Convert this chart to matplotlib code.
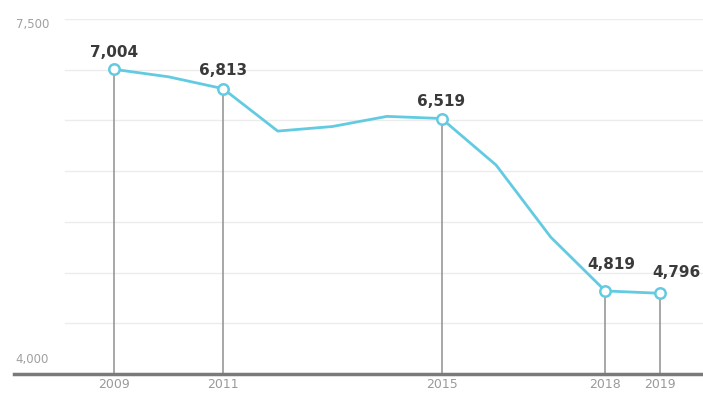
import numpy as np
import matplotlib.pyplot as plt

# dados
anos = [2009, 2010, 2011, 2012, 2013, 2014, 2015, 2016, 2017, 2018, 2019]
valores = [7004, 6930, 6813, 6395, 6440, 6540, 6519, 6060, 5350, 4819, 4796]

anos_marcados = [2009, 2011, 2015, 2018, 2019]
rotulos_anos = ['2009', '2011', '2015', '2018', '2019']

# deslocamento (em pontos) dos rótulos de valor
desloc = {2009: (0, 12), 2011: (0, 13), 2015: (0, 12), 2018: (4, 19), 2019: (12, 15)}

cor_linha = '#62cbe2'
cor_texto = '#3a3a3a'

fig = plt.figure(figsize=(7.03, 4.01), dpi=100)
ax = fig.add_axes([0.02, 0.0673, 0.98, 0.8853])

ax.set_xlim(2007.17, 2019.79)
ax.set_ylim(4000, 7500)

# grade horizontal clara
for yv in np.arange(4500, 7501, 500):
    ax.plot([2008.1, 2019.79], [yv, yv], color='#ececec', lw=1, zorder=0)

# linhas verticais até o eixo
for a in anos_marcados:
    v = valores[anos.index(a)]
    ax.plot([a, a], [4000, v], color='#909090', lw=1.1, zorder=1)

ax.plot(anos, valores, color=cor_linha, lw=2, zorder=2)
xs = [a for a in anos_marcados]
ys = [valores[anos.index(a)] for a in anos_marcados]
ax.plot(xs, ys, 'o', ms=7.5, mfc='white', mec=cor_linha, mew=1.8, zorder=3)

for a, v in zip(xs, ys):
    dx, dy = desloc[a]
    ax.annotate(f'{v:,}', (a, v), xytext=(dx, dy), textcoords='offset points',
                ha='center', va='center', fontsize=11, fontweight='bold',
                color=cor_texto)

# rótulos do eixo y
ax.text(2007.2, 7450, '7,500', fontsize=8.5, color='#a0a0a0', va='center', ha='left')
ax.text(2007.2, 4140, '4,000', fontsize=8.5, color='#a0a0a0', va='center', ha='left')

for s in ['top', 'right', 'left']:
    ax.spines[s].set_visible(False)
ax.spines['bottom'].set_color('#7a7a7a')
ax.spines['bottom'].set_linewidth(2.5)

ax.set_yticks([])
ax.set_xticks(anos_marcados)
ax.set_xticklabels(rotulos_anos, fontsize=9, color='#9a9a9a')
ax.tick_params(axis='x', length=0, pad=3)

fig.savefig('out.png', dpi=100)
